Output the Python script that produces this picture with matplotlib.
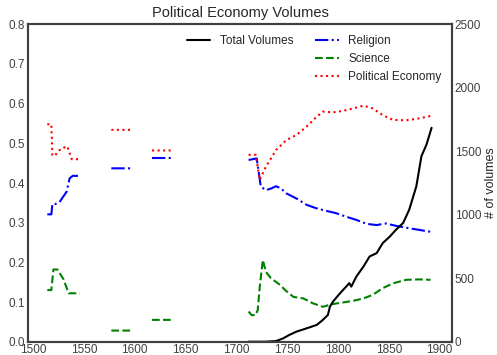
import numpy as np
import matplotlib
matplotlib.use("Agg")
import matplotlib.pyplot as plt
import seaborn as sns

nan = np.nan

# political economy share
pe_years = [1514, 1518, 1519, 1521, 1526, 1529, 1532, 1534, 1538, 1545, nan,
            1577, 1598, nan, 1617, 1636, nan,
            1712, 1719, 1723, 1729, 1739, 1749, 1759, 1769, 1779, 1785, 1795,
            1805, 1815, 1825, 1834, 1844, 1854, 1867, 1880, 1891]
pe_vals = [0.548, 0.548, 0.47, 0.468, 0.483, 0.485, 0.493, 0.49, 0.46, 0.46, nan,
           0.534, 0.534, nan, 0.482, 0.482, nan,
           0.471, 0.471, 0.408, 0.441, 0.483, 0.508, 0.521, 0.542, 0.567, 0.58, 0.578,
           0.582, 0.588, 0.595, 0.588, 0.571, 0.559, 0.558, 0.563, 0.569]

# religion share
rel_years = [1514, 1518, 1519, 1522, 1526, 1533, 1536, 1539, 1546, nan,
             1577, 1598, nan, 1617, 1636, nan,
             1712, 1720, 1724, 1729, 1734, 1739, 1744, 1749, 1759, 1769, 1779,
             1788, 1798, 1808, 1818, 1828, 1838, 1847, 1857, 1870, 1891]
rel_vals = [0.321, 0.321, 0.347, 0.347, 0.352, 0.378, 0.412, 0.418, 0.418, nan,
            0.437, 0.437, nan, 0.463, 0.463, nan,
            0.458, 0.462, 0.391, 0.382, 0.386, 0.392, 0.386, 0.374, 0.361, 0.345, 0.336,
            0.33, 0.324, 0.315, 0.307, 0.297, 0.294, 0.298, 0.292, 0.286, 0.277]

# science share
sci_years = [1514, 1518, 1520, 1524, 1530, 1535, 1546, nan,
             1577, 1598, nan, 1617, 1636, nan,
             1712, 1715, 1719, 1721, 1723, 1726, 1729, 1734, 1743, 1748, 1756,
             1766, 1775, 1785, 1795, 1805, 1815, 1825, 1834, 1844, 1854, 1867,
             1880, 1891]
sci_vals = [0.130, 0.130, 0.182, 0.182, 0.157, 0.122, 0.122, nan,
            0.028, 0.028, nan, 0.055, 0.055, nan,
            0.076, 0.067, 0.067, 0.080, 0.139, 0.206, 0.176, 0.16, 0.143, 0.13, 0.113,
            0.109, 0.097, 0.088, 0.095, 0.099, 0.103, 0.109, 0.118, 0.135, 0.147, 0.156,
            0.157, 0.156]

# total volumes (right axis)
tot_years = [1712, 1729, 1739, 1746, 1752, 1759, 1769, 1779, 1785, 1790, 1792,
             1795, 1802, 1808, 1811, 1813, 1818, 1825, 1831, 1838, 1844, 1851,
             1857, 1864, 1870, 1877, 1882, 1887, 1892]
tot_vals = [0, 0, 5, 26, 53, 79, 105, 132, 171, 211, 276,
            316, 382, 434, 461, 434, 513, 592, 671, 698, 777, 829,
            882, 935, 1040, 1224, 1461, 1553, 1685]

sns.set_style("white")
plt.rcParams["font.family"] = ["Liberation Sans", "DejaVu Sans"]

fig = plt.figure(figsize=(4.97, 3.55), dpi=100)
ax1 = fig.add_axes([0.0563, 0.0375, 0.853, 0.894])
ax2 = ax1.twinx()

ax2.plot(tot_years, tot_vals, "k-", lw=1.5, label="Total Volumes")
ax1.plot(rel_years, rel_vals, "b-.", lw=1.5, label="Religion")
ax1.plot(sci_years, sci_vals, "g--", lw=1.5, label="Science")
ax1.plot(pe_years, pe_vals, "r:", lw=1.5, label="Political Economy")

ax1.set_xlim(1495, 1912)
ax1.set_ylim(0, 0.8)
ax2.set_ylim(0, 2500)
ax2.set_ylabel("# of volumes", fontsize=9, color=".15", labelpad=3)
ax1.set_title("Political Economy Volumes", fontsize=10.5, color=".15", pad=5)

ax1.legend(loc="upper right", frameon=False, fontsize=8.5)
ax2.legend(loc="upper center", frameon=False, fontsize=8.5)

for a in (ax1, ax2):
    a.tick_params(labelsize=8.5, colors=".25", length=0, pad=2)
    for s in a.spines.values():
        s.set_color(".25")
        s.set_linewidth(1.5)

fig.savefig("out.png", dpi=100)
